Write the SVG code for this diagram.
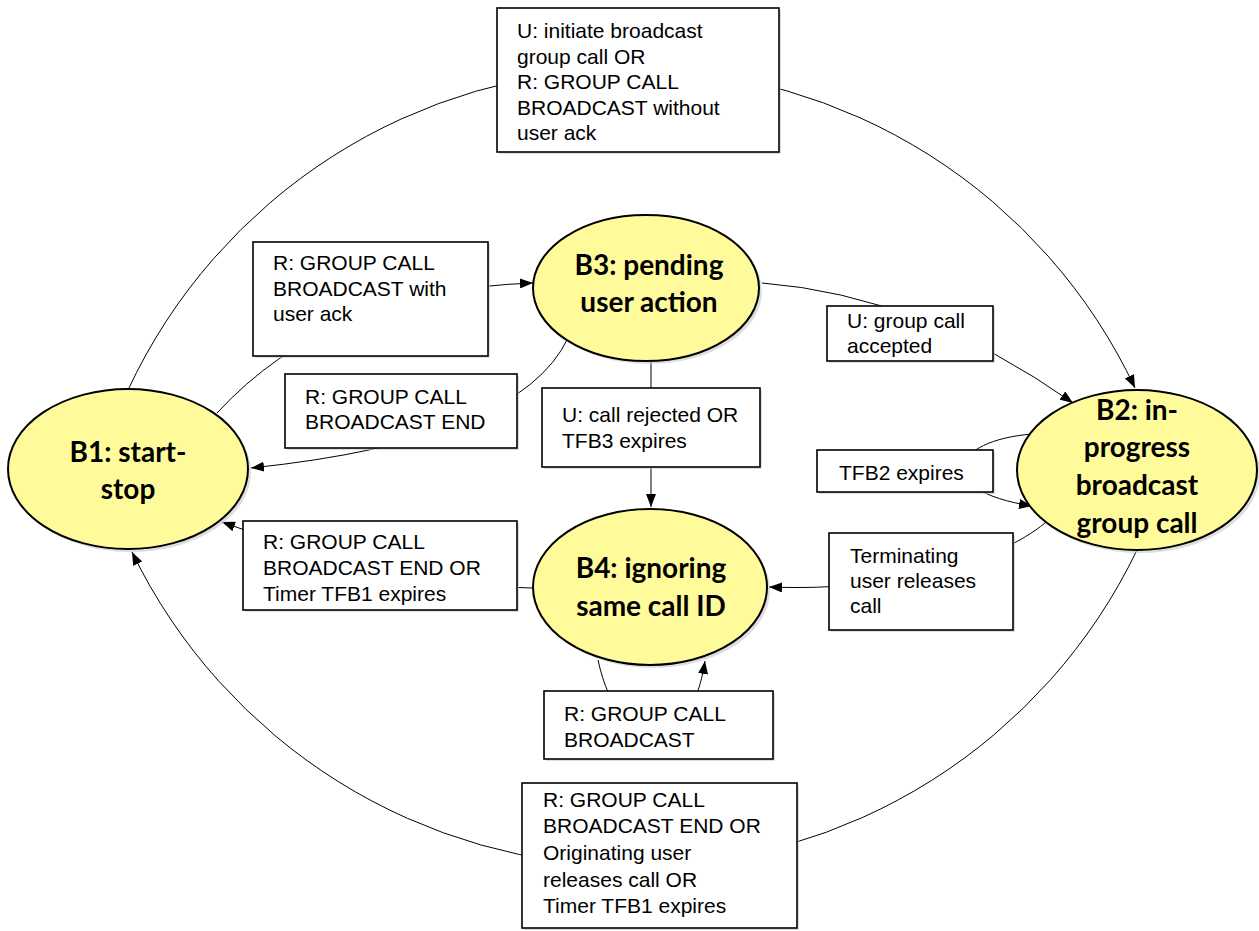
<svg xmlns="http://www.w3.org/2000/svg" width="1259" height="931" viewBox="0 0 1259 931">
<defs>
<marker id="arr" markerUnits="userSpaceOnUse" markerWidth="13" markerHeight="10" refX="13" refY="5" orient="auto">
<path d="M0,0 L13,5 L0,10 z" fill="#000"/>
</marker>
<style>
.edge{fill:none;stroke:#000;stroke-width:1}
.box{fill:#fff;stroke:#000;stroke-width:1.6}
.sh{fill:#c8c8c8;opacity:0.6}
.st{fill:#FFFA9A;stroke:#000;stroke-width:2}
.lbl{font-family:"Liberation Sans",Arial,sans-serif;font-size:21px;fill:#000}
.nt{font-family:Lato,"Open Sans",sans-serif;font-weight:bold;font-size:28px;fill:#000;text-anchor:middle}
</style>
</defs>
<rect width="1259" height="931" fill="#fff"/>
<g id="connectors">
<path class="edge" d="M128,390 A556,556 0 0 1 1135,388" marker-end="url(#arr)"/>
<path class="edge" d="M217,413 Q330,290 533,283" marker-end="url(#arr)"/>
<path class="edge" d="M568,338 Q520,440 251,468" marker-end="url(#arr)"/>
<path class="edge" d="M651,360 L651,507" marker-end="url(#arr)"/>
<path class="edge" d="M762,283 Q920,295 1073,403" marker-end="url(#arr)"/>
<path class="edge" d="M1033,434 C950,440 930,490 1032,506" marker-end="url(#arr)"/>
<path class="edge" d="M1045,523 C1000,560 900,592 769,587" marker-end="url(#arr)"/>
<path class="edge" d="M533,588 Q400,588 222,522" marker-end="url(#arr)"/>
<path class="edge" d="M598,660 C620,760 690,760 705,661" marker-end="url(#arr)"/>
<path class="edge" d="M1137,550 A558,558 0 0 1 132,552" marker-end="url(#arr)"/>
</g>
<g id="B1">
<ellipse class="sh" cx="131" cy="472" rx="120" ry="80"/>
<ellipse class="st" cx="128" cy="469" rx="120" ry="80"/>
<text class="nt" x="128" y="462">B1: start-</text>
<text class="nt" x="128" y="499">stop</text>
</g>
<g id="B3">
<ellipse class="sh" cx="649" cy="291" rx="113" ry="73"/>
<ellipse class="st" cx="646" cy="288" rx="113" ry="73"/>
<text class="nt" x="649" y="275">B3: pending</text>
<text class="nt" x="649" y="312">user action</text>
</g>
<g id="B2">
<ellipse class="sh" cx="1140" cy="473" rx="120" ry="80"/>
<ellipse class="st" cx="1137" cy="470" rx="120" ry="80"/>
<text class="nt" x="1137" y="420">B2: in-</text>
<text class="nt" x="1137" y="457">progress</text>
<text class="nt" x="1137" y="495">broadcast</text>
<text class="nt" x="1137" y="533">group call</text>
</g>
<g id="B4">
<ellipse class="sh" cx="653" cy="590" rx="117" ry="78"/>
<ellipse class="st" cx="650" cy="587" rx="117" ry="78"/>
<text class="nt" x="651" y="578">B4: ignoring</text>
<text class="nt" x="651" y="616">same call ID</text>
</g>
<g id="L_top">
<rect class="sh" x="499" y="10" width="282" height="144"/>
<rect class="box" x="497" y="8" width="282" height="144"/>
<text class="lbl" x="517" y="38">U: initiate broadcast</text>
<text class="lbl" x="517" y="64">group call OR</text>
<text class="lbl" x="517" y="89">R: GROUP CALL</text>
<text class="lbl" x="517" y="115">BROADCAST without</text>
<text class="lbl" x="517" y="140">user ack</text>
</g>
<g id="L_withack">
<rect class="sh" x="255" y="244" width="235" height="114"/>
<rect class="box" x="253" y="242" width="235" height="114"/>
<text class="lbl" x="273" y="270">R: GROUP CALL</text>
<text class="lbl" x="273" y="296">BROADCAST with</text>
<text class="lbl" x="273" y="321">user ack</text>
</g>
<g id="L_end">
<rect class="sh" x="287" y="376" width="232" height="74"/>
<rect class="box" x="285" y="374" width="232" height="74"/>
<text class="lbl" x="305" y="404">R: GROUP CALL</text>
<text class="lbl" x="305" y="429">BROADCAST END</text>
</g>
<g id="L_reject">
<rect class="sh" x="544" y="390" width="218" height="79"/>
<rect class="box" x="542" y="388" width="218" height="79"/>
<text class="lbl" x="562" y="422">U: call rejected OR</text>
<text class="lbl" x="562" y="448">TFB3 expires</text>
</g>
<g id="L_accepted">
<rect class="sh" x="829" y="308" width="166" height="55"/>
<rect class="box" x="827" y="306" width="166" height="55"/>
<text class="lbl" x="847" y="328">U: group call</text>
<text class="lbl" x="847" y="353">accepted</text>
</g>
<g id="L_tfb2">
<rect class="sh" x="819" y="452" width="176" height="42"/>
<rect class="box" x="817" y="450" width="176" height="42"/>
<text class="lbl" x="839" y="480">TFB2 expires</text>
</g>
<g id="L_term">
<rect class="sh" x="831" y="535" width="184" height="97"/>
<rect class="box" x="829" y="533" width="184" height="97"/>
<text class="lbl" x="850" y="563">Terminating</text>
<text class="lbl" x="850" y="588">user releases</text>
<text class="lbl" x="850" y="613">call</text>
</g>
<g id="L_endtimer">
<rect class="sh" x="245" y="523" width="274" height="89"/>
<rect class="box" x="243" y="521" width="274" height="89"/>
<text class="lbl" x="263" y="549">R: GROUP CALL</text>
<text class="lbl" x="263" y="575">BROADCAST END OR</text>
<text class="lbl" x="263" y="601">Timer TFB1 expires</text>
</g>
<g id="L_bcast">
<rect class="sh" x="546" y="693" width="229" height="68"/>
<rect class="box" x="544" y="691" width="229" height="68"/>
<text class="lbl" x="564" y="721">R: GROUP CALL</text>
<text class="lbl" x="564" y="747">BROADCAST</text>
</g>
<g id="L_bottom">
<rect class="sh" x="524" y="785" width="275" height="145"/>
<rect class="box" x="522" y="783" width="275" height="145"/>
<text class="lbl" x="543" y="807">R: GROUP CALL</text>
<text class="lbl" x="543" y="833">BROADCAST END OR</text>
<text class="lbl" x="543" y="860">Originating user</text>
<text class="lbl" x="543" y="887">releases call OR</text>
<text class="lbl" x="543" y="913">Timer TFB1 expires</text>
</g>
</svg>
